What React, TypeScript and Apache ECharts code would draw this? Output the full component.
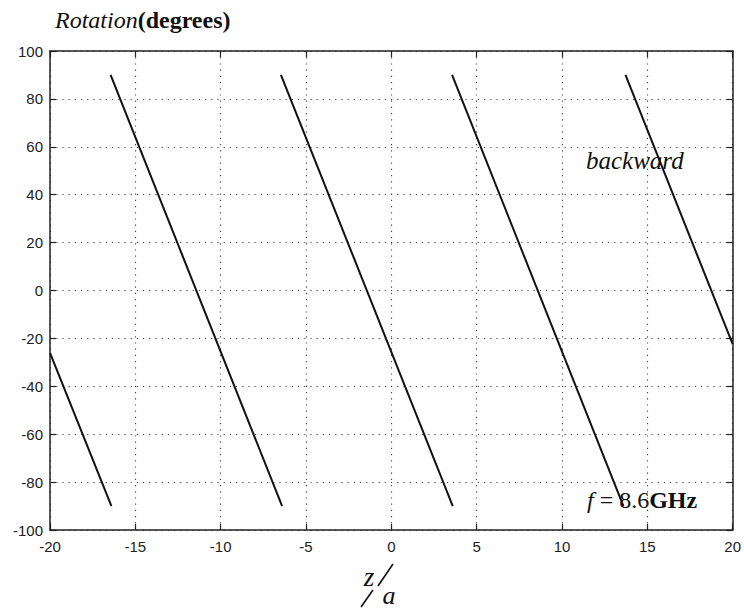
import React, { useEffect, useRef } from "react";
import * as echarts from "echarts";

// Line segments: [z/a, rotation in degrees]
const segment1: number[][] = [[-20, -26], [-16.4, -90]];
const segment2: number[][] = [[-16.45, 90], [-6.4, -90]];
const segment3: number[][] = [[-6.47, 90], [3.6, -90]];
const segment4: number[][] = [[3.56, 90], [13.6, -90]];
const segment5: number[][] = [[13.72, 90], [20, -22.4]];
const segments = [segment1, segment2, segment3, segment4, segment5];

const xRange = { min: -20, max: 20, interval: 5 };
const yRange = { min: -100, max: 100, interval: 20 };

const labelFont = "Liberation Sans";
const serif = "Liberation Serif";

export default function App() {
  const ref = useRef<HTMLDivElement>(null);
  useEffect(() => {
    if (!ref.current) return;
    const chart = echarts.init(ref.current, undefined, { renderer: "svg" });
    const axisLine = { show: true, onZero: false, lineStyle: { color: "#222", width: 1.5 } };
    const tick = { show: true, inside: true, length: 6, lineStyle: { color: "#222", width: 1.2 } };
    const split = { show: true, lineStyle: { color: "#444", width: 1.2, type: [1.2, 5] as any } };
    const label = { fontSize: 15, color: "#222", fontFamily: labelFont };
    chart.setOption({
      animation: false,
      backgroundColor: "#fff",
      grid: { left: 50, right: 11, top: 51, bottom: 80, show: false },
      xAxis: [
        { type: "value", ...xRange, position: "bottom", axisLine, axisTick: tick,
          axisLabel: { ...label, margin: 9 }, splitLine: split },
        { type: "value", ...xRange, position: "top", axisLine, axisTick: tick,
          axisLabel: { show: false }, splitLine: { show: false } },
      ],
      yAxis: [
        { type: "value", ...yRange, position: "left", axisLine, axisTick: tick,
          axisLabel: { ...label, margin: 7 }, splitLine: split },
        { type: "value", ...yRange, position: "right", axisLine, axisTick: tick,
          axisLabel: { show: false }, splitLine: { show: false } },
      ],
      series: segments.map((d) => ({
        type: "line",
        xAxisIndex: 0,
        yAxisIndex: 0,
        data: d,
        showSymbol: false,
        lineStyle: { color: "#111", width: 2 },
        silent: true,
      })),
      graphic: [
        {
          type: "text", x: 55, y: 20,
          style: {
            text: "{i|Rotation}{b|(degrees)}",
            verticalAlign: "middle",
            rich: {
              i: { fontFamily: serif, fontStyle: "italic", fontSize: 24, fill: "#111" },
              b: { fontFamily: serif, fontWeight: "bold", fontSize: 24, fill: "#111" },
            },
          } as any,
        },
        {
          type: "text", x: 586, y: 160,
          style: { text: "backward", fontFamily: serif, fontStyle: "italic", fontSize: 25, fill: "#111", verticalAlign: "middle" } as any,
        },
        {
          type: "text", x: 587, y: 500,
          style: {
            text: "{i|f }{n|= 8.6}{b|GHz}",
            verticalAlign: "middle",
            rich: {
              i: { fontFamily: serif, fontStyle: "italic", fontSize: 24, fill: "#111" },
              n: { fontFamily: serif, fontSize: 24, fill: "#111" },
              b: { fontFamily: serif, fontWeight: "bold", fontSize: 24, fill: "#111" },
            },
          } as any,
        },
        {
          type: "text", x: 369, y: 577,
          style: { text: "z", fontFamily: serif, fontStyle: "italic", fontSize: 27, fill: "#111", align: "center", verticalAlign: "middle" } as any,
        },
        { type: "line", shape: { x1: 378, y1: 586, x2: 393, y2: 564 }, style: { stroke: "#111", lineWidth: 1.6 } },
        { type: "line", shape: { x1: 361, y1: 607, x2: 373, y2: 590 }, style: { stroke: "#111", lineWidth: 1.6 } },
        {
          type: "text", x: 389, y: 595,
          style: { text: "a", fontFamily: serif, fontStyle: "italic", fontSize: 26, fill: "#111", align: "center", verticalAlign: "middle" } as any,
        },
      ],
    });
    return () => chart.dispose();
  }, []);
  return <div ref={ref} style={{ width: 744, height: 610, position: "absolute", left: 0, top: 0 }} />;
}
